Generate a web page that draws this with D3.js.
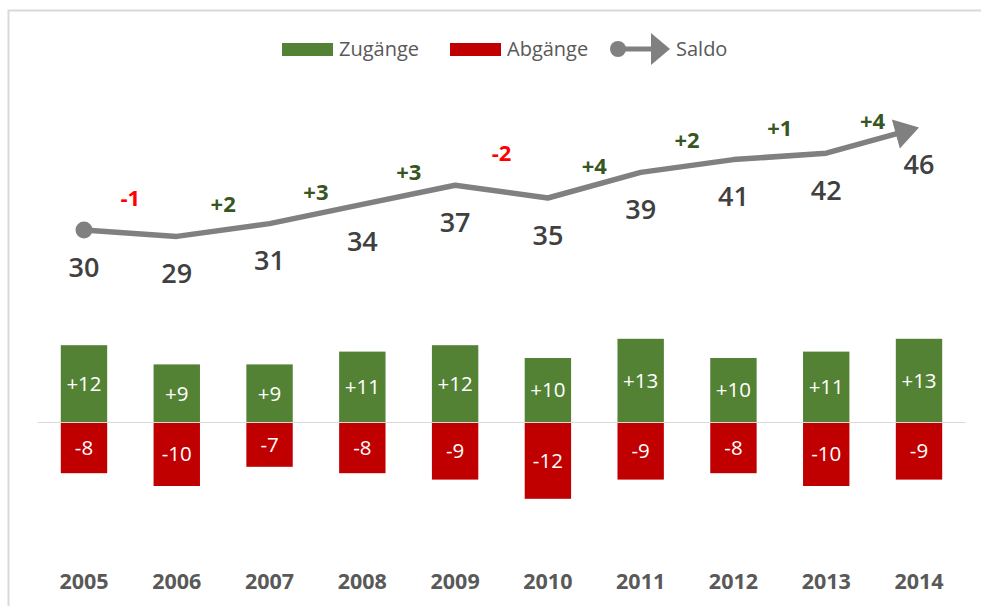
<!DOCTYPE html>
<html>
<head>
<meta charset="utf-8">
<script src="https://cdn.jsdelivr.net/npm/d3@7"></script>
<style>
  html, body { margin: 0; padding: 0; background: #fff; }
  svg { display: block; font-family: "Open Sans", "Liberation Sans", sans-serif; }
</style>
</head>
<body>
<div id="chart"></div>
<script>
// data
const years = ["2005", "2006", "2007", "2008", "2009", "2010", "2011", "2012", "2013", "2014"];
const zugaenge = [12, 9, 9, 11, 12, 10, 13, 10, 11, 13];
const abgaenge = [-8, -10, -7, -8, -9, -12, -9, -8, -10, -9];
const saldo = [30, 29, 31, 34, 37, 35, 39, 41, 42, 46];

const width = 981, height = 606;
const green = "#548235", red = "#c00000", grey = "#808080";

const svg = d3.select("#chart").append("svg")
  .attr("width", width)
  .attr("height", height);

// chart border (right/bottom run off the picture)
svg.append("rect")
  .attr("x", 8.5).attr("y", 10.5)
  .attr("width", 1000).attr("height", 1000)
  .attr("fill", "none")
  .attr("stroke", "#d9d9d9")
  .attr("stroke-width", 2);

const x = d3.scaleBand()
  .domain(years)
  .range([37.6, 965.4])
  .paddingInner(0.5)
  .paddingOuter(0.25);

const y = d3.scaleLinear()
  .domain([-20, 50])
  .range([550, 102]);

const cx = d => x(d) + x.bandwidth() / 2;

// zero line
svg.append("line")
  .attr("x1", x.range()[0]).attr("x2", x.range()[1])
  .attr("y1", y(0) + 0.5).attr("y2", y(0) + 0.5)
  .attr("stroke", "#d9d9d9")
  .attr("stroke-width", 1);

// bars
const bars = svg.append("g");
bars.selectAll("rect.zu")
  .data(years)
  .join("rect")
    .attr("class", "zu")
    .attr("x", d => x(d))
    .attr("width", x.bandwidth())
    .attr("y", (d, i) => y(zugaenge[i]))
    .attr("height", (d, i) => y(0) - y(zugaenge[i]))
    .attr("fill", green);

bars.selectAll("rect.ab")
  .data(years)
  .join("rect")
    .attr("class", "ab")
    .attr("x", d => x(d))
    .attr("width", x.bandwidth())
    .attr("y", y(0) + 1)
    .attr("height", (d, i) => y(abgaenge[i]) - y(0) - 1)
    .attr("fill", red);

// bar labels
const fmt = v => (v > 0 ? "+" : "") + v;
bars.selectAll("text.zu")
  .data(years)
  .join("text")
    .attr("x", cx)
    .attr("y", (d, i) => (y(0) + y(zugaenge[i])) / 2)
    .attr("dy", "0.36em")
    .attr("text-anchor", "middle")
    .attr("fill", "#fff")
    .attr("font-size", 20.5)
    .text((d, i) => fmt(zugaenge[i]));

bars.selectAll("text.ab")
  .data(years)
  .join("text")
    .attr("x", cx)
    .attr("y", (d, i) => (y(0) + y(abgaenge[i])) / 2)
    .attr("dy", "0.36em")
    .attr("text-anchor", "middle")
    .attr("fill", "#fff")
    .attr("font-size", 20.5)
    .text((d, i) => fmt(abgaenge[i]));

// category labels
svg.append("g").selectAll("text")
  .data(years)
  .join("text")
    .attr("x", cx)
    .attr("y", 589)
    .attr("text-anchor", "middle")
    .attr("fill", "#595959")
    .attr("font-weight", "bold")
    .attr("font-size", 21.5)
    .text(d => d);

// saldo line with start dot and arrow head
const pts = years.map((d, i) => [cx(d), y(saldo[i])]);
const n = pts.length;
const [ex, ey] = pts[n - 1], [px, py] = pts[n - 2];
const ang = Math.atan2(ey - py, ex - px);
const headLen = 24, headW = 30;
const baseX = ex - headLen * Math.cos(ang), baseY = ey - headLen * Math.sin(ang);
const linePts = pts.slice(0, n - 1).concat([[baseX + 2 * Math.cos(ang), baseY + 2 * Math.sin(ang)]]);

svg.append("path")
  .attr("d", d3.line()(linePts))
  .attr("fill", "none")
  .attr("stroke", grey)
  .attr("stroke-width", 5.5)
  .attr("stroke-linejoin", "round");

svg.append("circle")
  .attr("cx", pts[0][0]).attr("cy", pts[0][1])
  .attr("r", 8.5)
  .attr("fill", grey);

const nx = -Math.sin(ang), ny = Math.cos(ang);
svg.append("path")
  .attr("d", `M${ex},${ey}L${baseX + nx * headW / 2},${baseY + ny * headW / 2}L${baseX - nx * headW / 2},${baseY - ny * headW / 2}Z`)
  .attr("fill", grey);

// saldo value labels
svg.append("g").selectAll("text")
  .data(years)
  .join("text")
    .attr("x", cx)
    .attr("y", (d, i) => y(saldo[i]) + 37)
    .attr("dy", "0.36em")
    .attr("text-anchor", "middle")
    .attr("fill", "#404040")
    .attr("font-weight", 600)
    .attr("font-size", 27)
    .text((d, i) => saldo[i]);

// change labels between years
const diffs = saldo.slice(1).map((v, i) => v - saldo[i]);
svg.append("g").selectAll("text")
  .data(diffs)
  .join("text")
    .attr("x", (d, i) => (cx(years[i]) + cx(years[i + 1])) / 2)
    .attr("y", (d, i) => y(saldo[i]) - 32)
    .attr("dy", "0.36em")
    .attr("text-anchor", "middle")
    .attr("fill", d => d < 0 ? "#ff0000" : "#375623")
    .attr("font-weight", "bold")
    .attr("font-size", 22)
    .text(fmt);

// legend
const lg = svg.append("g").attr("font-size", 20).attr("fill", "#595959");
lg.append("rect").attr("x", 282).attr("y", 43).attr("width", 51).attr("height", 13).attr("fill", green);
lg.append("text").attr("x", 339).attr("y", 49).attr("dy", "0.36em").text("Zugänge");
lg.append("rect").attr("x", 450).attr("y", 43).attr("width", 51).attr("height", 13).attr("fill", red);
lg.append("text").attr("x", 507).attr("y", 49).attr("dy", "0.36em").text("Abgänge");
lg.append("line").attr("x1", 618).attr("x2", 654).attr("y1", 49).attr("y2", 49)
  .attr("stroke", grey).attr("stroke-width", 5);
lg.append("circle").attr("cx", 618).attr("cy", 49).attr("r", 8).attr("fill", grey);
lg.append("path").attr("d", "M670,49L651,33L651,65Z").attr("fill", grey);
lg.append("text").attr("x", 676).attr("y", 49).attr("dy", "0.36em").text("Saldo");
</script>
</body>
</html>
